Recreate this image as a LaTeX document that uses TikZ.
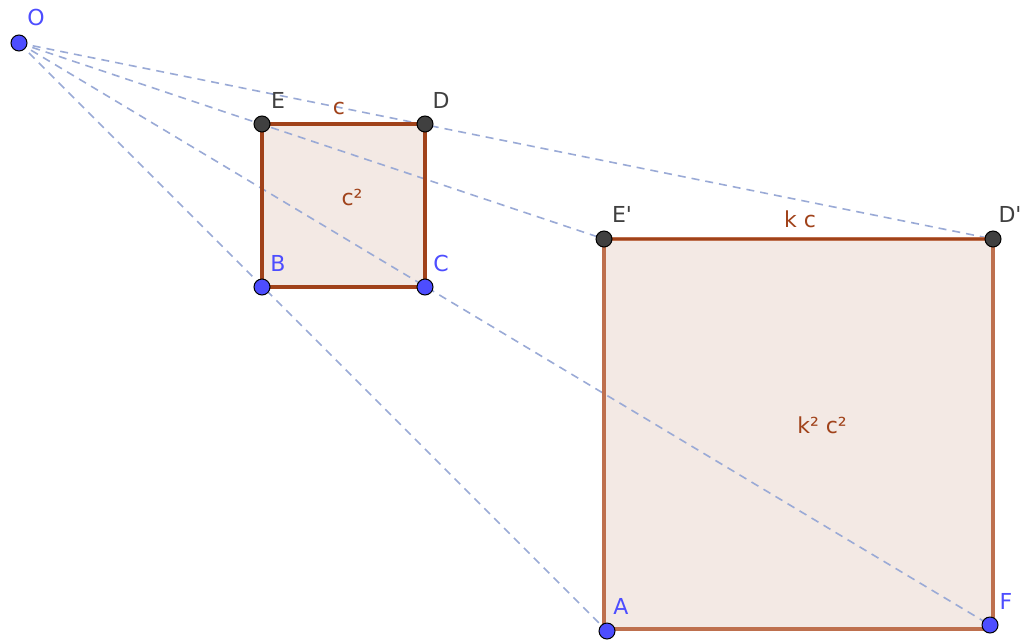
\documentclass[tikz,border=0pt]{standalone}
\usepackage{fontspec}
\setmainfont{DejaVu Sans}
\usepackage{tikz}
\usetikzlibrary{calc}

\definecolor{ptblue}{RGB}{77,77,255}
\definecolor{ptgrey}{RGB}{64,64,64}
\definecolor{sqbrown}{RGB}{160,66,26}
\definecolor{sqlight}{RGB}{190,112,78}
\definecolor{sqfill}{RGB}{243,233,228}
\definecolor{raycol}{RGB}{154,170,214}

\tikzset{
  bluept/.style={circle, draw=black, line width=1pt, fill=ptblue, inner sep=0pt, minimum size=16pt},
  greypt/.style={circle, draw=black, line width=1pt, fill=ptgrey, inner sep=0pt, minimum size=16pt},
  bluelbl/.style={text=ptblue, font=\fontsize{22}{26}\selectfont, inner sep=0pt},
  greylbl/.style={text=ptgrey, font=\fontsize{22}{26}\selectfont, inner sep=0pt},
  sqlbl/.style={text=sqbrown, font=\fontsize{22}{26}\selectfont, inner sep=0pt},
  ray/.style={raycol, line width=1.6pt, dash pattern=on 8pt off 6pt}
}

\begin{document}
\begin{tikzpicture}[x=1pt, y=-1pt]
    \useasboundingbox (0,0) rectangle (1027,640);

    % points
    \coordinate (O) at (19,43);
    \coordinate (E) at (262,124); \coordinate (D) at (425,124);
    \coordinate (B) at (262,287); \coordinate (C) at (425,287);
    \coordinate (Ep) at (604,239); \coordinate (Dp) at (993,239);
    \coordinate (A) at (607,631); \coordinate (F) at (990,625);

    % squares
    \fill[sqfill] (E) -- (D) -- (C) -- (B) -- cycle;
    \fill[sqfill] (Ep) -- (Dp) -- (993,629) -- (604,629) -- cycle;

    % rays from O
    \draw[ray] (O) -- (Dp); \draw[ray] (O) -- (Ep);
    \draw[ray] (O) -- (A); \draw[ray] (O) -- (F);

    % edges
    \draw[sqbrown, line width=3.6pt] (E) -- (D) -- (C) -- (B) -- cycle;
    \draw[sqlight, line width=3.6pt] (Ep) -- (Dp) -- (993,629) -- (604,629) -- cycle;
    \draw[sqbrown, line width=2.6pt] (Ep) -- (Dp);

    % labels
    \node[sqlbl] (lc) at (339,108) {c}; \node[sqlbl] (lcc) at (352,197) {c²};
    \node[sqlbl] (lkc) at (800,219) {k c}; \node[sqlbl] (lkkcc) at (822,425) {k² c²};

    \node[bluelbl] (lO) at (36,17) {O};
    \node[greylbl] (lE) at (278,100) {E}; \node[greylbl] (lD) at (441,100) {D};
    \node[bluelbl] (lB) at (278,263) {B}; \node[bluelbl] (lC) at (441,263) {C};
    \node[greylbl] (lEp) at (622,214) {E\textquotesingle}; \node[greylbl] (lDp) at (1010,214) {D\textquotesingle};
    \node[bluelbl] (lA) at (621,606) {A}; \node[bluelbl] (lF) at (1006,601) {F};

    % point marks
    \node[bluept] (pO) at (O) {};
    \node[greypt] (pE) at (E) {}; \node[greypt] (pD) at (D) {};
    \node[bluept] (pB) at (B) {}; \node[bluept] (pC) at (C) {};
    \node[greypt] (pEp) at (Ep) {}; \node[greypt] (pDp) at (Dp) {};
    \node[bluept] (pA) at (A) {}; \node[bluept] (pF) at (F) {};
  \end{tikzpicture}
\end{document}
